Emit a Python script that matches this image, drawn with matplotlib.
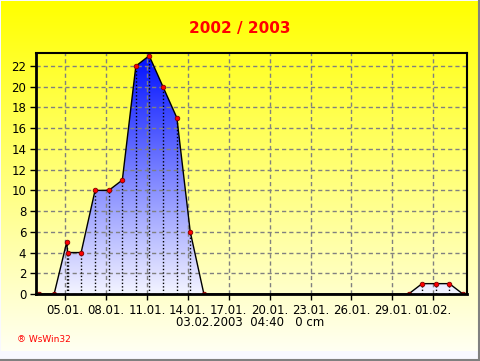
import matplotlib
matplotlib.use('Agg')
import matplotlib.pyplot as plt
import numpy as np
from matplotlib.colors import LinearSegmentedColormap

# days since 01.01.2003 00:00 (readings each morning ~04:40)
days = [2.11, 3.20, 4.12, 4.19, 5.18, 6.20, 7.21, 8.20, 9.19, 10.17,
        11.18, 12.20, 13.18, 14.18, 29.19, 30.18, 31.20, 32.18, 33.17]
snow_cm = [0, 0, 5, 4, 4, 10, 10, 11, 22, 23, 20, 17, 6, 0, 0, 1, 1, 1, 0]

tick_days = [4, 7, 10, 13, 16, 19, 22, 25, 28, 31]
tick_labels = ['05.01.', '08.01.', '11.01.', '14.01.', '17.01.',
               '20.01.', '23.01.', '26.01.', '29.01.', '01.02.']

W, H = 481, 361
fig = plt.figure(figsize=(W / 100, H / 100), dpi=100)
fig.patch.set_facecolor('#f8f8ff')

# yellow gradient background
bg = fig.add_axes([1 / W, 1 - 351 / H, 478 / W, 350 / H])
yellow = LinearSegmentedColormap.from_list('yel', ['#fffff2', '#ffff00'])
grad = np.linspace(0, 1, 256).reshape(-1, 1)
bg.imshow(grad, aspect='auto', cmap=yellow, origin='lower',
          extent=[0, 1, 0, 1])
bg.set_axis_off()

# border lines right / bottom
fig.add_artist(plt.Line2D([1 - 1.5 / W, 1 - 1.5 / W], [1.5 / H, 1], color='#808080', lw=1.5))
fig.add_artist(plt.Line2D([0, 1 - 1.5 / W], [1.5 / H, 1.5 / H], color='#808080', lw=1.5))

left, right, top, bottom = 36, 466.7, 53, 294
ax = fig.add_axes([left / W, 1 - bottom / H, (right - left) / W, (bottom - top) / H])
ax.patch.set_alpha(0)
xmin, xmax = 1.87, 33.45
ymax = 23.26
ax.set_xlim(xmin, xmax)
ax.set_ylim(0, ymax)

# gradient fill under the curve
blue = LinearSegmentedColormap.from_list('blu', ['#f4f4ff', '#0010ff'])
poly = ax.fill_between(days, snow_cm, 0, facecolor='none', edgecolor='none')
img = ax.imshow(np.linspace(0, 1, 256).reshape(-1, 1), aspect='auto', cmap=blue,
                origin='lower', extent=[xmin, xmax, 0, 23], zorder=2)
img.set_clip_path(poly.get_paths()[0], transform=ax.transData)

# dotted drop lines
for d, v in zip(days, snow_cm):
    if v > 0:
        ax.plot([d, d], [0, v], color='black', lw=1, ls=(0, (1, 1.5)), zorder=3)

ax.plot(days, snow_cm, color='black', lw=1, zorder=4)
ax.plot(days, snow_cm, 'o', ms=3.3, mfc='#ff0000', mec='#800000', mew=0.6, zorder=5)

ax.set_xticks(tick_days)
ax.set_xticklabels(tick_labels)
ax.set_yticks(range(0, 23, 2))
ax.tick_params(axis='both', direction='out', length=4, width=1, colors='black',
               labelsize=8.5, pad=3)
ax.grid(True, color='#808080', ls=(0, (3, 2.2)), lw=1)
ax.set_axisbelow(False)
for sp in ax.spines.values():
    sp.set_linewidth(1.5)
    sp.set_zorder(6)
ax.spines['left'].set_linewidth(2)
ax.spines['bottom'].set_linewidth(2)

fig.text(240 / W, 1 - 29 / H, '2002 / 2003', color='#ff0000', fontsize=11,
         fontweight='bold', ha='center', va='center')
fig.text(250 / W, 1 - 322 / H, '03.02.2003  04:40   0 cm', color='black',
         fontsize=8.5, ha='center', va='center')
fig.text(17 / W, 1 - 340 / H, '® WsWin32', color='#ff0000', fontsize=6.5,
         ha='left', va='center')

fig.savefig('out.png', dpi=100)
